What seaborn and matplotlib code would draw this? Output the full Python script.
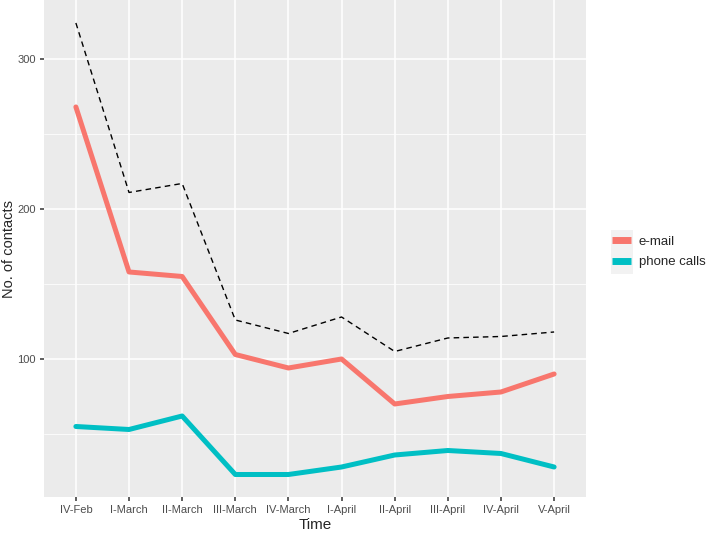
import numpy as np
import pandas as pd
import matplotlib
matplotlib.use("Agg")
import matplotlib.pyplot as plt
from matplotlib.patches import Rectangle
from matplotlib.ticker import MultipleLocator
import seaborn as sns

weeks = ['IV-Feb', 'I-March', 'II-March', 'III-March', 'IV-March',
         'I-April', 'II-April', 'III-April', 'IV-April', 'V-April']
email = [268, 158, 155, 103, 94, 100, 70, 75, 78, 90]
phone = [55, 53, 62, 23, 23, 28, 36, 39, 37, 28]
total = [324, 211, 217, 126, 117, 128, 105, 114, 115, 118]

df = pd.DataFrame({
    'Time': weeks * 2,
    'contacts': email + phone,
    'type': ['e-mail'] * len(weeks) + ['phone calls'] * len(weeks),
})
df_total = pd.DataFrame({'Time': weeks, 'contacts': total})

sns.set_theme(style='darkgrid', rc={
    'axes.facecolor': '#EBEBEB',
    'grid.color': 'white',
    'axes.edgecolor': '#EBEBEB',
})
plt.rcParams['font.family'] = ['Liberation Sans', 'DejaVu Sans']

fig = plt.figure(figsize=(7.09, 5.37), dpi=100)
ax = fig.add_axes([44 / 709, 40 / 537, 542 / 709, 497 / 537])

sns.lineplot(data=df, x='Time', y='contacts', hue='type', sort=False,
             palette=['#F8766D', '#00BFC4'], linewidth=3.6, ax=ax, legend=False)
sns.lineplot(data=df_total, x='Time', y='contacts', sort=False, color='black',
             linestyle=(0, (4, 3)), linewidth=1.0, ax=ax)

ax.set_xlim(-0.6, 9.6)
ax.set_ylim(8, 339.3)
ax.yaxis.set_major_locator(MultipleLocator(100))
ax.yaxis.set_minor_locator(MultipleLocator(50))
ax.grid(which='major', color='white', linewidth=1.1)
ax.grid(which='minor', axis='y', color='white', linewidth=0.55)
for s in ax.spines.values():
    s.set_visible(False)

ax.tick_params(axis='both', which='major', length=3, width=1.1, color='#333333',
               labelsize=8, labelcolor='#4D4D4D', pad=3, left=True, bottom=True)
ax.tick_params(axis='y', which='minor', length=0)
ax.set_xlabel('Time', fontsize=11, labelpad=2)
ax.set_ylabel('No. of contacts', fontsize=10.5, labelpad=1)

# legend with grey key background like ggplot
fig.patches.append(Rectangle((611 / 709, 1 - 274 / 537), 22 / 709, 44 / 537,
                             transform=fig.transFigure, facecolor='#F2F2F2',
                             edgecolor='none', zorder=0))
handles = [plt.Line2D([], [], color='#F8766D', linewidth=5, solid_capstyle='butt'),
           plt.Line2D([], [], color='#00BFC4', linewidth=5, solid_capstyle='butt')]
fig.legend(handles, ['e-mail', 'phone calls'], loc='center left',
           bbox_to_anchor=(600 / 709, 1 - 252 / 537), frameon=False,
           fontsize=9.5, handlelength=1.45, handletextpad=0.6, labelspacing=0.6)

fig.savefig('out.png', dpi=100)
